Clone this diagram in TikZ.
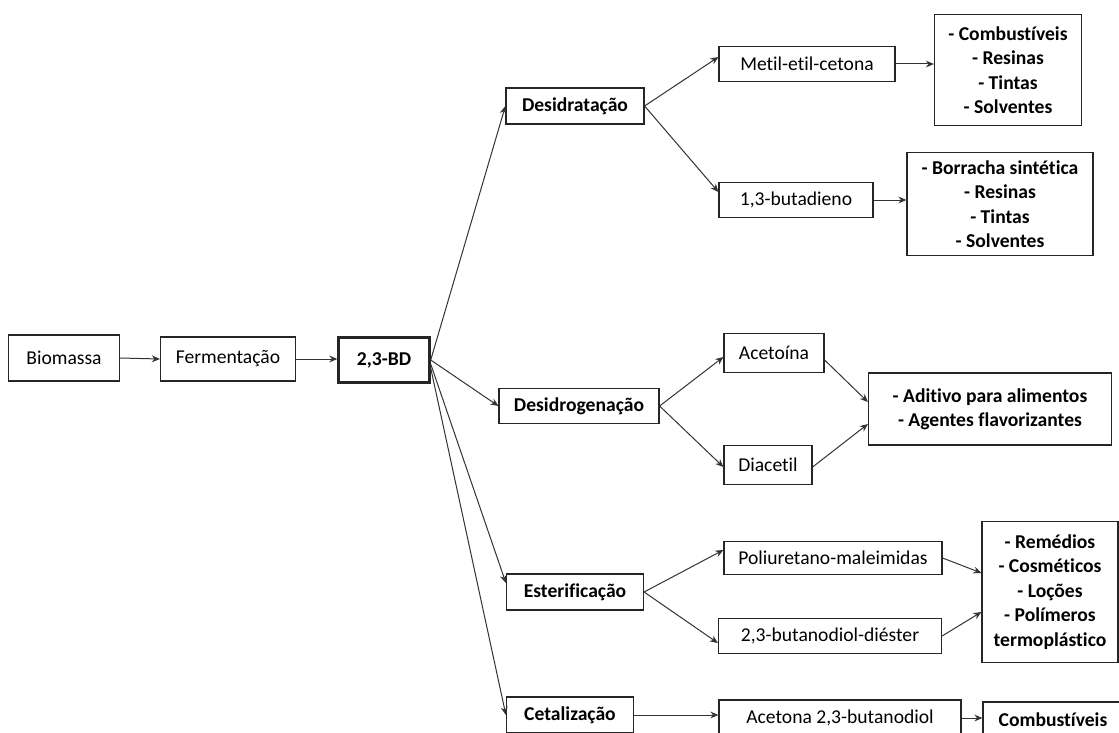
\documentclass[tikz,border=0pt]{standalone}
\usepackage{fontspec}
\setmainfont{Carlito}[Ligatures=NoCommon]
\usetikzlibrary{arrows.meta}

\tikzset{
  box/.style={draw=black!85, line width=0.6pt, inner sep=0pt, align=center,
    font=\fontsize{9.8}{12.2}\selectfont},
  boldbox/.style={box, font=\fontsize{9.8}{12.2}\selectfont\bfseries},
  link/.style={draw=black!80, line width=0.5pt, -{Stealth[length=4pt,width=3.4pt]}}
}

\begin{document}
\begin{tikzpicture}[x=0.5pt, y=-0.5pt]
  % Fix the frame of the picture
  \useasboundingbox (0,0) rectangle (1119,733);
  \clip (0,0) rectangle (1119,733);

  % Main chain
  \node[box, minimum width=55.5pt, minimum height=23pt] (bio) at (64,358) {Biomassa};
  \node[box, minimum width=67.5pt, minimum height=22pt] (ferm) at (228,359) {Fermentação};
  \node[boldbox, line width=1.2pt, minimum width=45.5pt, minimum height=22.5pt] (bd) at (384,360) {2,3-BD};

  % Processes
  \node[boldbox, minimum width=69pt, minimum height=18pt] (desid) at (575,106) {Desidratação};
  \node[boldbox, minimum width=80pt, minimum height=17.5pt] (desidro) at (579,406) {Desidrogenação};
  \node[boldbox, minimum width=68.5pt, minimum height=18pt] (ester) at (575,592) {Esterificação};
  \node[boldbox, minimum width=63.5pt, minimum height=18pt] (ceta) at (570,715) {Cetalização};

  % Products
  \node[box, minimum width=88pt, minimum height=17.5pt] (mec) at (807,64) {Metil-etil-cetona};
  \node[box, minimum width=77pt, minimum height=17.5pt] (buta) at (796,200) {1,3-butadieno};
  \node[box, minimum width=50pt, minimum height=19.5pt] (acet) at (774,353) {Acetoína};
  \node[box, minimum width=44pt, minimum height=19.5pt] (diac) at (768,465) {Diacetil};
  \node[box, minimum width=109pt, minimum height=16.5pt] (poli) at (833,558) {Poliuretano-maleimidas};
  \node[box, minimum width=111.5pt, minimum height=17.5pt] (dies) at (830,636) {2,3-butanodiol-diéster};
  \node[box, minimum width=121pt, minimum height=18pt] (acetona) at (840,718) {Acetona 2,3-butanodiol};

  % Applications
  \node[boldbox, minimum width=73.5pt, minimum height=55.5pt] (comb) at (1008,70)
    {- Combustíveis\\- Resinas\\- Tintas\\- Solventes};
  \node[boldbox, minimum width=93pt, minimum height=51.5pt] (borr) at (1000,204)
    {- Borracha sintética\\- Resinas\\- Tintas\\- Solventes};
  \node[boldbox, minimum width=121.5pt, minimum height=36pt] (adit) at (990,409)
    {- Aditivo para alimentos\\- Agentes flavorizantes};
  \node[boldbox, minimum width=68pt, minimum height=70.5pt] (reme) at (1050,592)
    {- Remédios\\- Cosméticos\\- Loções\\- Polímeros\\termoplástico};
  \node[boldbox, minimum width=70pt, minimum height=18pt] (combf) at (1053,720) {Combustíveis};

  % Draw the arrows
  \draw[link] (bio.east) -- (ferm.west);
  \draw[link] (ferm.west -| ferm.east) -- (bd.west |- ferm.east);
  \draw[link] (bd.east) -- (desid.west);
  \draw[link] (bd.east) -- (desidro.west);
  \draw[link] ([yshift=-2pt]bd.east) -- ([yshift=4.5pt]ester.west);
  \draw[link] ([yshift=-4pt]bd.east) -- (ceta.west);

  \draw[link] (desid.east) -- ([yshift=3.5pt]mec.west);
  \draw[link] (desid.east) -- ([yshift=4pt]buta.west);
  \draw[link] (mec.east) -- (comb.west |- mec.east);
  \draw[link] (buta.east) -- (borr.west |- buta.east);

  \draw[link] (desidro.east) -- ([yshift=-2pt]acet.west);
  \draw[link] (desidro.east) -- ([yshift=-1pt]diac.west);
  \draw[link] ([yshift=-3.5pt]acet.east) -- ([yshift=3.5pt]adit.west);
  \draw[link] ([yshift=-1pt]diac.east) -- ([yshift=-7.5pt]adit.west);

  \draw[link] (ester.east) -- ([yshift=4pt]poli.west);
  \draw[link] (ester.east) -- ([yshift=-3.5pt]dies.west);
  \draw[link] (poli.east) -- ([yshift=9.5pt]reme.west);
  \draw[link] (dies.east) -- ([yshift=-10pt]reme.west);

  \draw[link] (ceta.east) -- (acetona.west |- ceta.east);
  \draw[link] (acetona.east) -- (combf.west |- acetona.east);

\end{tikzpicture}
\end{document}
